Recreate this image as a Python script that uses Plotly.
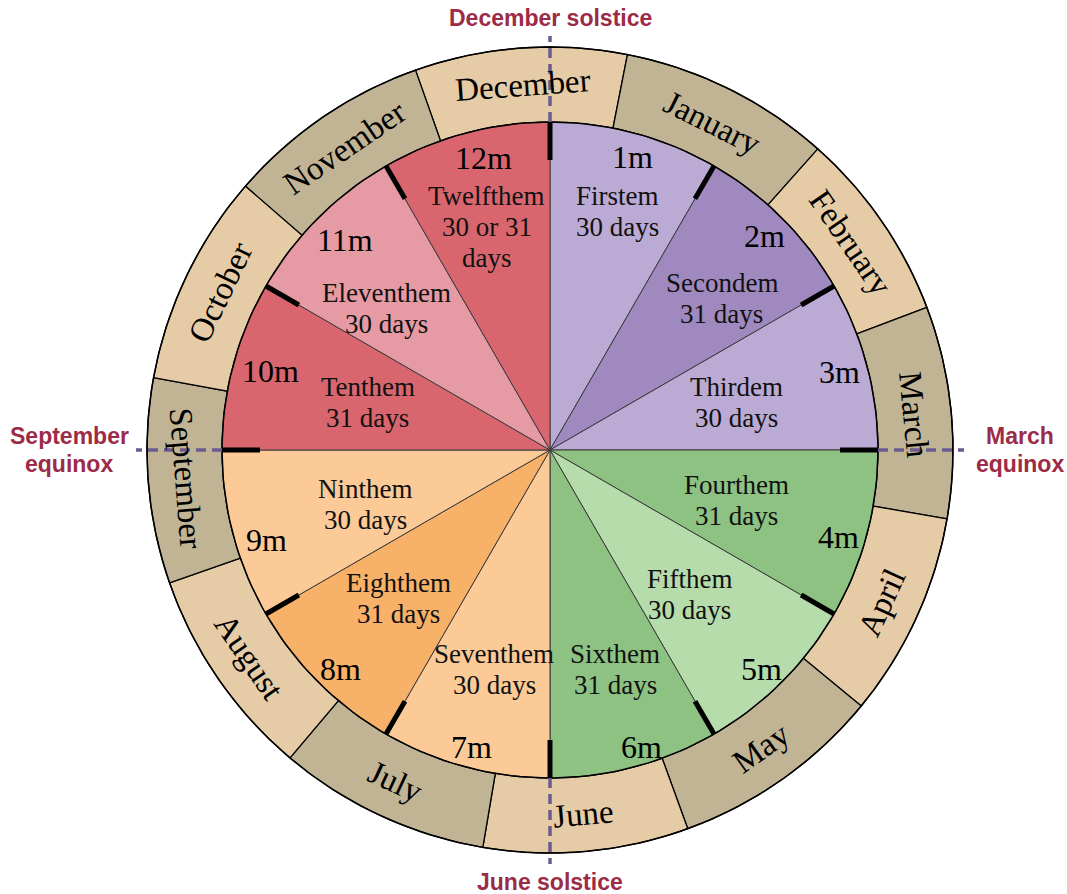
import numpy as np
import plotly.graph_objects as go

# ---------------- data ----------------
months = ["December", "January", "February", "March", "April", "May",
          "June", "July", "August", "September", "October", "November"]
month_days = [31, 31, 28, 31, 30, 31, 30, 31, 31, 30, 31, 30]
dec1_offset_deg = -19.5          # Dec 1 relative to the December solstice (top)

periods = ["Firstem", "Secondem", "Thirdem", "Fourthem", "Fifthem", "Sixthem",
           "Seventhem", "Eighthem", "Ninthem", "Tenthem", "Eleventhem", "Twelfthem"]
period_days = ["30", "31", "30", "31", "30", "31", "30", "31", "30", "31", "30", "30 or 31"]
period_short = [f"{i}m" for i in range(1, 13)]

markers = [["December solstice"], ["March", "equinox"], ["June solstice"], ["September", "equinox"]]
marker_angles = [0, 90, 180, 270]

# ---------------- styles / layout ----------------
period_colors = ["#bbaad3", "#9f89be", "#bbaad3",
                 "#8dc283", "#b6dcab", "#8dc283",
                 "#fbca97", "#f8b168", "#fbca97",
                 "#d9666f", "#e69aa4", "#d9666f"]
ring_colors = ["#e5cba6", "#c1b494"]
R_PIE, R_RING, R_TICK, R_DASH = 328, 403, 290, 414
# label placement (polar: radius, angle clockwise from top)
name_r = [248, 229, 192, 193, 201, 229, 226, 212, 192, 188, 216, 232]
name_th = [15.8, 48.6, 75.8, 105.2, 136, 163.5, 194.3, 225.7, 253.6, 284.5, 311, 344.2]
num_r = [304, 303, 300, 301, 305, 311, 307, 303, 297, 290, 293, 300]
num_th = [15.8, 45.0, 74.9, 106.8, 136, 162.8, 194.9, 223.7, 252.4, 285.8, 315.7, 347.1]
marker_r = [432, 470, 432, 481]
SERIF = "Liberation Serif, Times New Roman, serif"
LABEL_RED = "#9c2b47"


def xy(r, th):
    t = np.radians(th)
    return r * np.sin(t), r * np.cos(t)


def arc(r, a0, a1, n=80):
    th = np.linspace(a0, a1, n)
    return xy(r, th)


fig = go.Figure()

# outer month ring
total = sum(month_days)
a = dec1_offset_deg
month_mid = []
for i, (m, d) in enumerate(zip(months, month_days)):
    a1 = a + 360.0 * d / total
    xo, yo = arc(R_RING, a, a1)
    xi, yi = arc(R_PIE, a1, a)
    xs = np.concatenate([xo, xi, xo[:1]])
    ys = np.concatenate([yo, yi, yo[:1]])
    fig.add_trace(go.Scatter(x=xs, y=ys, mode="lines", fill="toself",
                             fillcolor=ring_colors[i % 2],
                             line=dict(color="black", width=1.3),
                             hoverinfo="skip", showlegend=False))
    month_mid.append((a + a1) / 2)
    a = a1

# inner pie of 12 periods
step = 360 / len(periods)
for i, p in enumerate(periods):
    a0, a1 = i * step, (i + 1) * step
    xa, ya = arc(R_PIE, a0, a1)
    xs = np.concatenate([[0], xa, [0]])
    ys = np.concatenate([[0], ya, [0]])
    fig.add_trace(go.Scatter(x=xs, y=ys, mode="lines", fill="toself",
                             fillcolor=period_colors[i],
                             line=dict(color="#3a3a3a", width=1),
                             hoverinfo="skip", showlegend=False))

# outlines
for rr in (R_PIE, R_RING):
    xc, yc = arc(rr, 0, 360, 240)
    fig.add_trace(go.Scatter(x=xc, y=yc, mode="lines", line=dict(color="black", width=1.5),
                             hoverinfo="skip", showlegend=False))

# ticks at period boundaries
for i in range(len(periods)):
    x0, y0 = xy(R_TICK, i * step)
    x1, y1 = xy(R_PIE, i * step)
    fig.add_trace(go.Scatter(x=[x0, x1], y=[y0, y1], mode="lines",
                             line=dict(color="black", width=5),
                             hoverinfo="skip", showlegend=False))

# dashed solstice / equinox lines
for ang in marker_angles:
    x0, y0 = xy(R_PIE, ang)
    x1, y1 = xy(R_DASH, ang)
    fig.add_trace(go.Scatter(x=[x0, x1], y=[y0, y1], mode="lines",
                             line=dict(color="#6b5b8e", width=3.5, dash="10px,6px"),
                             hoverinfo="skip", showlegend=False))

ann = []


def add_lines(x, y, lines, spacing, font):
    n = len(lines)
    for k, ln in enumerate(lines):
        ann.append(dict(x=x, y=y - spacing * (k - (n - 1) / 2), text=ln,
                        showarrow=False, font=font))


# month names on ring
for m, th in zip(months, month_mid):
    x, y = xy((R_PIE + R_RING) / 2, th)
    t = th % 360
    if t <= 90:
        ang = t
    elif t <= 270:
        ang = t - 180
    else:
        ang = t - 360
    ann.append(dict(x=x, y=y, text=m, textangle=ang, showarrow=False,
                    font=dict(family=SERIF, size=33, color="black")))

# period short labels
for i, s in enumerate(period_short):
    x, y = xy(num_r[i], num_th[i])
    ann.append(dict(x=x, y=y, text=s, showarrow=False,
                    font=dict(family=SERIF, size=32, color="black")))

# period names
for i, (p, d) in enumerate(zip(periods, period_days)):
    x, y = xy(name_r[i], name_th[i])
    lines = [p, d, "days"] if len(d) > 2 else [p, f"{d} days"]
    add_lines(x, y, lines, 31, dict(family=SERIF, size=27, color="#111111"))

# solstice / equinox labels
for lab, ang, r in zip(markers, marker_angles, marker_r):
    x, y = xy(r, ang)
    add_lines(x, y, [f"<b>{s}</b>" for s in lab], 28,
              dict(family="Liberation Sans, Arial, sans-serif", size=23, color=LABEL_RED))

fig.update_layout(
    width=1067, height=894,
    margin=dict(l=0, r=0, t=0, b=0),
    paper_bgcolor="white", plot_bgcolor="white",
    xaxis=dict(range=[-550, 517], visible=False, fixedrange=True),
    yaxis=dict(range=[-444, 450], visible=False, fixedrange=True),
    annotations=ann,
    showlegend=False,
)

fig.write_html("out.html", config={"displayModeBar": False},
               post_script="document.body.style.margin='0';document.body.style.overflow='hidden';")
